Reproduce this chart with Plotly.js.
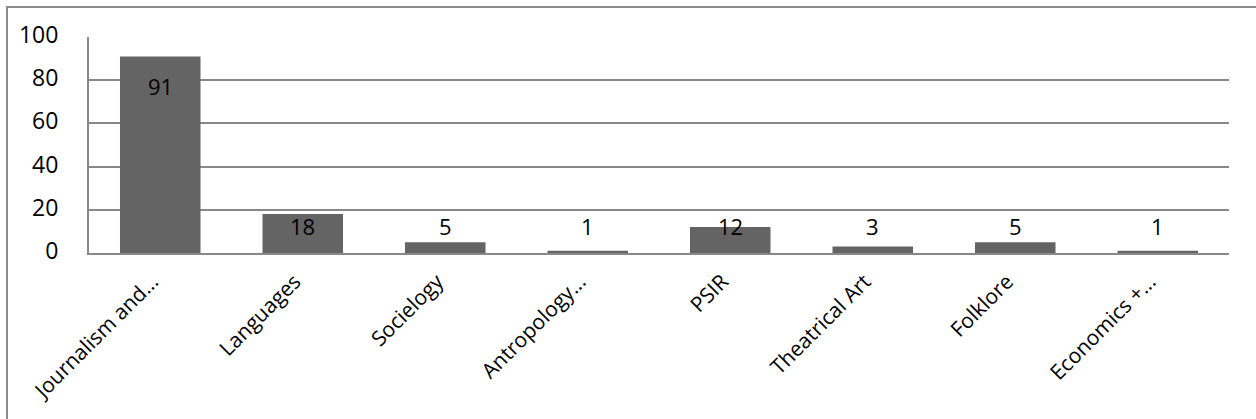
<!DOCTYPE html>
<html>
<head>
<meta charset="utf-8">
<script src="https://cdn.plot.ly/plotly-3.0.1.min.js"></script>
<style>
  html, body { margin: 0; padding: 0; background: #fff; }
  #wrap { position: relative; width: 1256px; height: 419px; overflow: hidden; }
  #frame { position: absolute; left: 6px; top: 6px; width: 1300px; height: 500px;
           border-left: 2px solid #8c8c8c; border-top: 2px solid #8c8c8c; box-sizing: border-box; }
  #chart { position: absolute; left: 0; top: 0; width: 1256px; height: 419px; }
</style>
</head>
<body>
<div id="wrap">
  <div id="chart"></div>
  <div id="frame"></div>
</div>
<script>
// Number of students per department
const categories = ['Journalism and...', 'Languages', 'Socielogy', 'Antropology...',
                    'PSIR', 'Theatrical Art', 'Folklore', 'Economics +...'];
const counts = [91, 18, 5, 1, 12, 3, 5, 1];
const yTicks = [0, 20, 40, 60, 80, 100];

const FONT = 'Open Sans, Noto Sans, sans-serif';
const GRID = '#888888';

const bars = {
  type: 'bar',
  x: categories,
  y: counts,
  width: 0.565,
  marker: { color: '#646464', line: { width: 0 } },
  hoverinfo: 'x+y'
};

// Value labels sit just inside the top of each bar, kept clear of the baseline on short bars
const labels = counts.map((v, i) => ({
  x: categories[i],
  y: Math.max(v - 13.9, 12.3),
  xref: 'x', yref: 'y',
  text: String(v),
  showarrow: false,
  yanchor: 'middle',
  font: { family: FONT, size: 22, color: '#000' }
}));

const layout = {
  width: 1256, height: 419,
  margin: { l: 89, r: 27, t: 37, b: 166, pad: 0 },
  paper_bgcolor: '#fff',
  plot_bgcolor: '#fff',
  showlegend: false,
  xaxis: {
    type: 'category',
    range: [-0.5, categories.length - 0.5],
    tickangle: -45,
    showgrid: false,
    showline: true, linecolor: GRID, linewidth: 2,
    ticks: '', ticklen: 0,
    ticklabelshift: -8,
    ticklabelstandoff: 6,
    tickfont: { family: FONT, size: 21, color: '#000' },
    zeroline: false,
    fixedrange: true
  },
  yaxis: {
    range: [0, 100],
    tickvals: yTicks,
    ticktext: yTicks.map(String),
    showgrid: true, gridcolor: GRID, gridwidth: 2,
    showline: true, linecolor: GRID, linewidth: 2,
    ticks: 'outside', ticklen: 24, tickcolor: 'rgba(0,0,0,0)',
    ticklabelshift: -2,
    tickfont: { family: FONT, size: 23, color: '#000' },
    zeroline: false,
    fixedrange: true
  },
  annotations: labels
};

Plotly.newPlot('chart', [bars], layout, { displayModeBar: false, staticPlot: true });
</script>
</body>
</html>
